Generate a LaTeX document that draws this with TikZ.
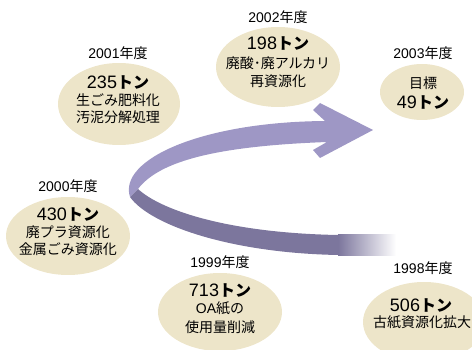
\documentclass[tikz,border=0pt]{standalone}
\usepackage{fontspec}
\setmainfont{Liberation Sans}
\newfontfamily\jp{Noto Sans CJK JP}
\usetikzlibrary{shapes.geometric}
\definecolor{beige}{RGB}{237,229,201}
\definecolor{lightband}{RGB}{158,151,197}
\definecolor{darkband}{RGB}{124,118,157}
\tikzset{
  ell/.style={ellipse, fill=beige, inner sep=0pt},
  yr/.style={anchor=base, inner sep=0pt, font=\fontsize{14}{14}\selectfont},
  num/.style={anchor=base, inner sep=0pt, font=\fontsize{18}{18}\selectfont},
  sub/.style={anchor=base, inner sep=0pt, font=\jp\fontsize{14}{14}\selectfont},
}
\newcommand\myton{{\jp\bfseries\fontsize{16}{16}\selectfont トン}}
\newcommand\mynendo{{\jp 年度}}
\begin{document}
\begin{tikzpicture}[x=1pt,y=-1pt]
\useasboundingbox (0,0) rectangle (472,350);
\clip (0,0) rectangle (472,350);
% ribbon arrow
\fill[darkband] (138,189) .. controls (162,211) and (230,233) .. (338,235)
  -- (338,255) .. controls (230,253) and (150,225) .. (130,197) -- cycle;
\shade[left color=darkband, right color=white] (338,235) rectangle (396,256);
\fill[lightband] (130,197) .. controls (118,160) and (200,122) .. (325,121)
  -- (313,110) -- (320,103) -- (373,130) -- (320,158) -- (313,150) -- (327,142)
  .. controls (220,146) and (160,160) .. (138,189) -- cycle;
% ellipses
\node[ell, minimum width=122pt, minimum height=82pt] (e2001) at (119,104) {};
\node[ell, minimum width=124pt, minimum height=80pt] (e2002) at (278,67) {};
\node[ell, minimum width=84pt, minimum height=56pt] (e2003) at (422,92) {};
\node[ell, minimum width=124pt, minimum height=78pt] (e2000) at (68,236) {};
\node[ell, minimum width=124pt, minimum height=78pt] (e1999) at (220,312) {};
\node[ell, minimum width=122pt, minimum height=80pt] (e1998) at (424,322) {};
% 2001
\node[yr] (y2001) at (118,58.5) {2001\mynendo};
\node[num] (n2001) at (118,88.5) {235\myton};
\node[sub] (a2001) at (118,105.5) {生ごみ肥料化};
\node[sub] (b2001) at (118,122.5) {汚泥分解処理};
% 2002
\node[yr] (y2002) at (278,22.5) {2002\mynendo};
\node[num] (n2002) at (278,49.5) {198\myton};
\node[sub] (a2002) at (278,68.5) {廃酸･廃アルカリ};
\node[sub] (b2002) at (278,86.5) {再資源化};
% 2003
\node[yr] (y2003) at (423,58.5) {2003\mynendo};
\node[sub] (a2003) at (423,88.5) {目標};
\node[num] (n2003) at (423,108.5) {49\myton};
% 2000
\node[yr] (y2000) at (68,191.5) {2000\mynendo};
\node[num] (n2000) at (68,220.5) {430\myton};
\node[sub] (a2000) at (68,237.5) {廃プラ資源化};
\node[sub] (b2000) at (68,254.5) {金属ごみ資源化};
% 1999
\node[yr] (y1999) at (220,268) {1999\mynendo};
\node[num] (n1999) at (220,296.5) {713\myton};
\node[sub] (a1999) at (220,313.5) {{\fontspec{Liberation Sans}OA}紙の};
\node[sub] (b1999) at (220,332.5) {使用量削減};
% 1998
\node[yr] (y1998) at (423,273.5) {1998\mynendo};
\node[num] (n1998) at (421,311.5) {506\myton};
\node[sub] (a1998) at (422,327.5) {古紙資源化拡大};
\end{tikzpicture}
\end{document}
